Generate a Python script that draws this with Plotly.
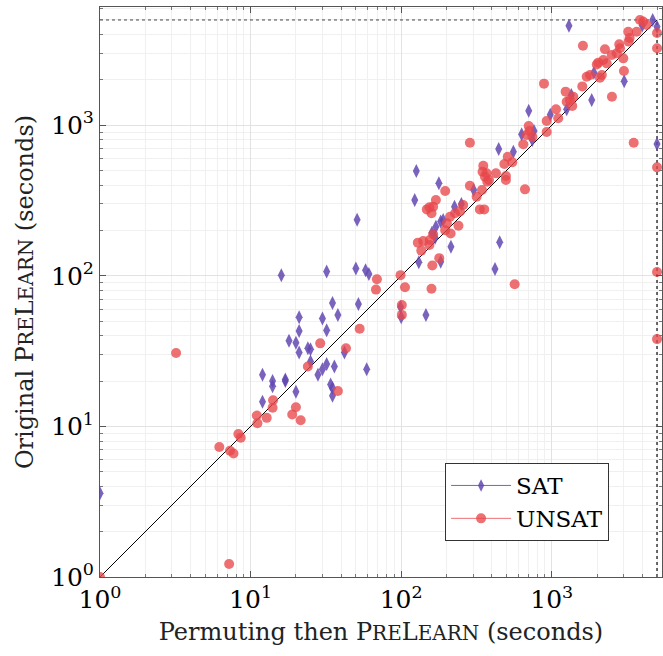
import plotly.graph_objects as go

TIMEOUT = 5000

sat_x = [1, 51, 16, 32, 50, 58, 61, 35, 52, 21, 30, 38, 21, 32, 18, 20, 21, 24, 25, 25, 32, 30, 28, 36, 59, 42,
         12, 14, 14, 17, 17, 20, 12, 34, 35, 35,
         178, 123, 303, 251, 226, 190, 183, 170, 160, 168, 214, 131, 183, 451, 420, 99, 100, 146,
         1300, 703, 977, 1256, 1348, 1842, 1906, 3027, 631, 762, 743, 444, 556, 126,
         3990, 4680, 5000, 5000]
sat_y = [3.6, 236, 101, 107, 112, 109, 103, 66, 65, 53, 52, 55, 43, 43.5, 37, 36, 31, 33, 32.5, 27, 26, 24, 22, 25, 24, 31,
         22, 20, 18.5, 20.5, 20, 17, 14.6, 19, 18, 16,
         411, 319, 371, 300, 288, 235, 229, 212, 193, 179, 156, 123, 124, 167, 111, 62, 53, 55,
         4580, 1248, 1175, 1276, 1588, 1470, 2234, 1955, 870, 916, 798, 695, 667, 496,
         4600, 5000, 4500, 750]

unsat_x = [1, 7.2, 6.2, 7.3, 7.7, 8.3, 8.6, 11, 11.1, 12.8, 14, 14.1, 18.9, 20, 21.5,
           3.2, 69, 68, 53, 29, 43, 24, 38,
           99, 106, 101, 101, 159, 161, 179, 136, 129, 140, 154, 155, 163, 213, 196, 201, 211, 240, 228, 246, 258,
           159, 148, 154, 163, 170, 196, 286, 317, 344, 333, 356, 373, 496, 664, 567, 5000, 5000,
           286, 351, 347, 369, 360, 383, 426, 496, 484, 510, 547, 647, 703, 710, 683, 743,
           925, 925, 888, 1067, 1104, 1236, 1256, 1368, 1390, 1611, 1595, 1706, 1795, 2090, 2036, 2200, 2316,
           2255, 2500, 2700, 2807, 2985, 3015, 2510, 3500, 3220, 3660, 3240, 3850, 4040, 4270, 5000, 5000, 5000,
           1320, 1990, 2150, 3290, 2840]
unsat_y = [1, 1.22, 7.3, 6.9, 6.6, 8.9, 8.4, 11.8, 10.5, 11.4, 13.3, 14.9, 12, 13.4, 11,
           30.7, 95, 81, 44.5, 35.6, 33, 25, 17.2,
           101, 84, 64, 55, 82, 117, 131, 147, 166, 170, 160, 173, 189, 191, 201, 223, 247, 215, 260, 267, 295,
           260, 276, 285, 288, 319, 366, 396, 335, 371, 276, 276, 422, 433, 375, 88, 106, 38,
           765, 538, 491, 479, 455, 433, 479, 460, 552, 618, 567, 747, 988, 916, 861, 839,
           901, 1067, 1888, 1276, 1111, 1671, 1432, 1342, 1546, 3373, 1811, 2100, 2155, 2066, 2603, 2711, 2575,
           3191, 2925, 3000, 3445, 2780, 2290, 1546, 765, 4180, 4180, 3590, 5000, 4880, 4630, 4100, 3240, 525,
           1470, 2530, 2155, 3800, 3240]

tick_vals = [1, 10, 100, 1000]
tick_text = ["10<sup>0</sup>", "10<sup>1</sup>", "10<sup>2</sup>", "10<sup>3</sup>"]
minor_vals = [m * 10 ** e for e in range(0, 4) for m in range(2, 10)]

SAT_COLOR = "rgba(98,72,178,0.85)"
UNSAT_COLOR = "rgba(232,72,76,0.78)"
FONT = "DejaVu Serif"

fig = go.Figure()

# reference lines
fig.add_trace(go.Scatter(x=[1, TIMEOUT], y=[1, TIMEOUT], mode="lines",
                         line=dict(color="black", width=1), showlegend=False, hoverinfo="skip"))
fig.add_trace(go.Scatter(x=[1, TIMEOUT], y=[TIMEOUT, TIMEOUT], mode="lines",
                         line=dict(color="#444", width=1, dash="dot"), showlegend=False, hoverinfo="skip"))
fig.add_trace(go.Scatter(x=[TIMEOUT, TIMEOUT], y=[1, TIMEOUT], mode="lines",
                         line=dict(color="#444", width=1.6, dash="dot"), showlegend=False, hoverinfo="skip"))

fig.add_trace(go.Scatter(x=sat_x, y=sat_y, mode="markers", showlegend=False,
                         marker=dict(symbol="diamond-tall", size=10, color=SAT_COLOR, line=dict(width=0))))
fig.add_trace(go.Scatter(x=unsat_x, y=unsat_y, mode="markers", showlegend=False,
                         marker=dict(symbol="circle", size=10, color=UNSAT_COLOR, line=dict(width=0))))

# legend entries
fig.add_trace(go.Scatter(x=[None], y=[None], mode="lines+markers", name="SAT",
                         line=dict(color=SAT_COLOR, width=1),
                         marker=dict(symbol="diamond-tall", size=9, color=SAT_COLOR)))
fig.add_trace(go.Scatter(x=[None], y=[None], mode="lines+markers", name="UNSAT",
                         line=dict(color=UNSAT_COLOR, width=1),
                         marker=dict(symbol="circle", size=10, color=UNSAT_COLOR)))

sc = '<span style="font-size:20px">'
xtitle = f"Permuting then P{sc}RE</span>L{sc}EARN</span> (seconds)"
ytitle = f"Original P{sc}RE</span>L{sc}EARN</span> (seconds)"

axis_common = dict(
    type="log", tickvals=tick_vals, ticktext=tick_text, automargin=False,
    showline=True, linecolor="#555", linewidth=1, mirror="ticks",
    ticks="inside", ticklen=6, tickcolor="#555",
    showgrid=True, gridcolor="#e2e2e2", gridwidth=1,
    minor=dict(tickmode="array", tickvals=minor_vals, ticks="inside", ticklen=3, tickcolor="#777",
               showgrid=True, gridcolor="#f0f0f0", gridwidth=1),
    zeroline=False, tickfont=dict(family=FONT, size=25, color="black"),
)

fig.update_xaxes(range=[0, 3.732], title=dict(text=xtitle, font=dict(family=FONT, size=24, color="#222"), standoff=10),
                 **axis_common)
fig.update_yaxes(range=[0, 3.785], title=dict(text=ytitle, font=dict(family=FONT, size=24, color="#222"), standoff=10),
                 **axis_common)

fig.update_layout(
    width=663, height=656,
    margin=dict(l=100, r=1, t=7, b=79),
    plot_bgcolor="white", paper_bgcolor="white",
    font=dict(family=FONT, size=23, color="black"),
    legend=dict(x=0.614, y=0.2, xanchor="left", yanchor="top",
                bgcolor="white", bordercolor="#333", borderwidth=1,
                font=dict(family=FONT, size=23), itemwidth=60, tracegroupgap=0),
)

# remove the browser's default 8px page margin so the figure fills the window exactly
fig.write_html("out.html",
               config={"displayModeBar": False},
               post_script="document.body.style.margin='0';document.body.style.overflow='hidden';")
